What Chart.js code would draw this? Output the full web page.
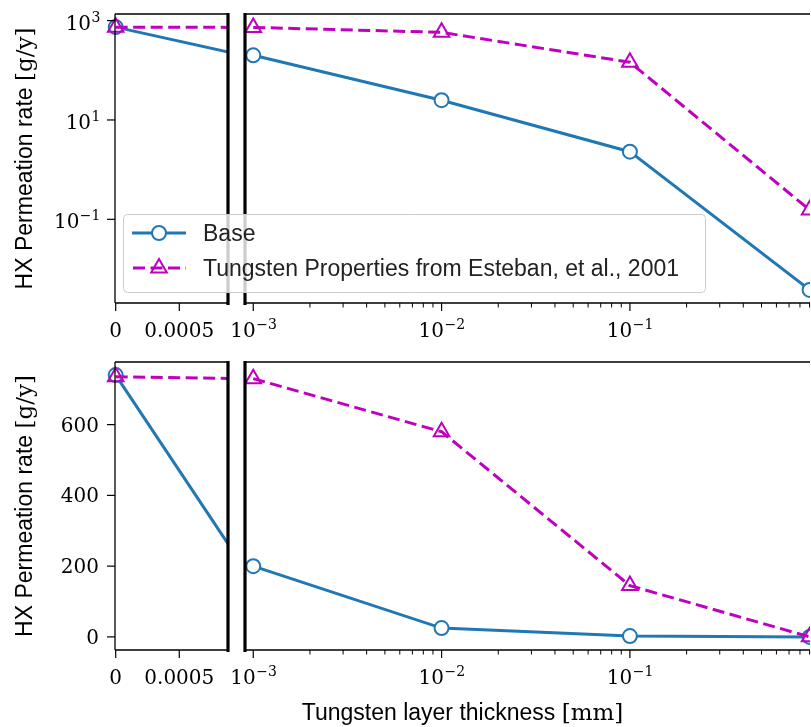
<!DOCTYPE html>
<html>
<head>
<meta charset="utf-8">
<script src="https://cdn.jsdelivr.net/npm/chart.js@4.4.1/dist/chart.umd.min.js"></script>
<style>
  body { margin: 0; background: #fff; }
  #fig { position: relative; width: 811px; height: 727px; overflow: hidden; }
  canvas { position: absolute; left: 0; }
</style>
</head>
<body>
<div id="fig">
  <canvas id="topLeft" width="232" height="345" style="top:0"></canvas>
  <canvas id="topRight" width="811" height="345" style="top:0"></canvas>
  <canvas id="botLeft" width="232" height="382" style="top:345px"></canvas>
  <canvas id="botRight" width="811" height="382" style="top:345px"></canvas>
</div>
<script>
// tungsten layer thickness [mm] and HX permeation rate [g/y]
const thickness = [0, 0.001, 0.01, 0.1, 0.9];
const baseRate = [740, 200, 25, 2.3, 0.0038];
const tungstenRate = [735, 730, 580, 145, 0.155];
const seriesNames = ['Base', 'Tungsten Properties from Esteban, et al., 2001'];

const linearXTicks = [0, 0.0005];
const linearXLabels = ['0', '0.0005'];
const logXTicks = [0.001, 0.01, 0.1];
const logYTicks = [1000, 10, 0.1];
const linearYTicks = [0, 200, 400, 600];

const BLUE = '#1f77b4';
const MAGENTA = '#bf00bf';
const SERIF = '"DejaVu Serif", serif';
const SANS = '"Liberation Sans", sans-serif';

function points(ys, logX) {
  return thickness.map((x, i) => ({ x, y: ys[i] })).filter(p => !logX || p.x > 0);
}

function datasets(logX) {
  return [
    {
      label: seriesNames[0], data: points(baseRate, logX), order: 1,
      borderColor: BLUE, borderWidth: 3,
      pointStyle: 'circle', pointRadius: 7, pointBorderWidth: 2,
      pointBorderColor: BLUE, pointBackgroundColor: '#fff'
    },
    {
      label: seriesNames[1], data: points(tungstenRate, logX), order: 0,
      borderColor: MAGENTA, borderWidth: 3, borderDash: [12, 5.5],
      pointStyle: 'triangle', pointRadius: 9, pointBorderWidth: 2,
      pointBorderColor: MAGENTA, pointBackgroundColor: 'rgba(0,0,0,0)'
    }
  ];
}

// "10" with a raised exponent
function drawPow(ctx, exp, x, y, align) {
  const base = '10';
  const sup = exp < 0 ? '\u2212' + (-exp) : String(exp);
  ctx.font = '20px ' + SERIF;
  const wb = ctx.measureText(base).width;
  ctx.font = '14px ' + SERIF;
  const ws = ctx.measureText(sup).width;
  const x0 = align === 'center' ? x - (wb + ws) / 2 : x - wb - ws;
  ctx.textAlign = 'left';
  ctx.textBaseline = 'alphabetic';
  ctx.font = '20px ' + SERIF;
  ctx.fillText(base, x0, y);
  ctx.font = '14px ' + SERIF;
  ctx.fillText(sup, x0 + wb + 0.5, y - 8);
}

// text made of pieces in different fonts, centred on x
function drawParts(ctx, parts, x, y) {
  let total = 0;
  parts.forEach(p => { ctx.font = p.font; total += ctx.measureText(p.text).width; });
  let cx = x - total / 2;
  ctx.textAlign = 'left';
  ctx.textBaseline = 'alphabetic';
  parts.forEach(p => {
    ctx.font = p.font;
    ctx.fillText(p.text, cx, y);
    cx += ctx.measureText(p.text).width;
  });
}

const yTitle = [
  { text: 'HX Permeation rate ', font: '23px ' + SANS },
  { text: '[g/y]', font: '23px ' + SERIF }
];
const xTitle = [
  { text: 'Tungsten layer thickness ', font: '23px ' + SANS },
  { text: '[mm]', font: '23px ' + SERIF }
];

const framePlugin = {
  id: 'frame',
  afterDatasetsDraw(chart, args, o) {
    const { ctx, chartArea: a } = chart;
    const xs = chart.scales.x, ys = chart.scales.y;
    ctx.save();
    ctx.strokeStyle = '#000';
    ctx.fillStyle = '#000';

    // spines
    ctx.lineWidth = 1.3;
    ctx.beginPath();
    ctx.moveTo(a.left, a.top); ctx.lineTo(a.right, a.top);
    ctx.moveTo(a.left, a.bottom); ctx.lineTo(a.right, a.bottom);
    if (o.leftSpine) { ctx.moveTo(a.left, a.top); ctx.lineTo(a.left, a.bottom); }
    ctx.stroke();

    // thick lines at the axis break
    ctx.lineWidth = 3.2;
    ctx.beginPath();
    if (o.breakRight) { ctx.moveTo(a.right, a.top - 1); ctx.lineTo(a.right, a.bottom + 2); }
    if (o.breakLeft) { ctx.moveTo(a.left, a.top - 1); ctx.lineTo(a.left, a.bottom + 2); }
    ctx.stroke();

    // x ticks
    const tick = (px, len, w) => {
      ctx.lineWidth = w;
      ctx.beginPath();
      ctx.moveTo(px, a.bottom); ctx.lineTo(px, a.bottom + len);
      ctx.stroke();
    };
    const xBase = a.bottom + 34;
    if (o.logX) {
      for (let d = 1e-4; d < 2; d *= 10) {
        for (let m = 2; m <= 9; m++) {
          const v = m * d;
          if (v >= xs.min && v <= xs.max) tick(xs.getPixelForValue(v), 4.5, 1);
        }
      }
      logXTicks.forEach(v => {
        const px = xs.getPixelForValue(v);
        tick(px, 8, 1.2);
        drawPow(ctx, Math.round(Math.log10(v)), px, xBase, 'center');
      });
    } else {
      linearXTicks.forEach((v, i) => {
        const px = xs.getPixelForValue(v);
        tick(px, 8, 1.2);
        ctx.textAlign = 'center';
        ctx.textBaseline = 'alphabetic';
        ctx.font = '20px ' + SERIF;
        ctx.fillText(linearXLabels[i], px, xBase);
      });
    }

    // y ticks and title on the left panels only
    if (o.leftSpine) {
      const yt = o.logY ? logYTicks : linearYTicks;
      yt.forEach(v => {
        const py = ys.getPixelForValue(v);
        ctx.lineWidth = 1.2;
        ctx.beginPath();
        ctx.moveTo(a.left - 8, py); ctx.lineTo(a.left, py);
        ctx.stroke();
        if (o.logY) {
          drawPow(ctx, Math.round(Math.log10(v)), a.left - 15, py + 9, 'right');
        } else {
          ctx.font = '20px ' + SERIF;
          ctx.textAlign = 'right';
          ctx.textBaseline = 'alphabetic';
          ctx.fillText(String(v), a.left - 16, py + 7);
        }
      });
      ctx.save();
      ctx.translate(31.5, (a.top + a.bottom) / 2);
      ctx.rotate(-Math.PI / 2);
      drawParts(ctx, yTitle, 0, 0);
      ctx.restore();
    }

    if (o.xTitle) drawParts(ctx, xTitle, (115 + 810) / 2, 375);
    ctx.restore();
  },
  afterDraw(chart, args, o) {
    if (!o.legend) return;
    const ctx = chart.ctx;
    ctx.save();
    // frame
    const x0 = 123.5, y0 = 214.5, w = 582, h = 78, r = 4;
    ctx.beginPath();
    ctx.roundRect(x0, y0, w, h, r);
    ctx.fillStyle = 'rgba(255,255,255,0.8)';
    ctx.fill();
    ctx.strokeStyle = '#cccccc';
    ctx.lineWidth = 1;
    ctx.stroke();

    const rows = [233, 268];
    chart.data.datasets.forEach((ds, i) => {
      const y = rows[i];
      ctx.strokeStyle = ds.borderColor;
      ctx.lineWidth = ds.borderWidth;
      ctx.setLineDash(ds.borderDash || []);
      ctx.lineDashOffset = ds.borderDash ? -1 : 0;
      ctx.beginPath();
      ctx.moveTo(132, y); ctx.lineTo(186, y);
      ctx.stroke();
      ctx.setLineDash([]);
      ctx.lineWidth = ds.pointBorderWidth;
      ctx.fillStyle = ds.pointBackgroundColor;
      ctx.beginPath();
      const cx = 159, pr = ds.pointRadius;
      if (ds.pointStyle === 'circle') {
        ctx.arc(cx, y, pr, 0, Math.PI * 2);
      } else {
        for (let k = 0; k < 3; k++) {
          const ang = k * 2 * Math.PI / 3;
          const px = cx + Math.sin(ang) * pr, py = y - Math.cos(ang) * pr;
          if (k === 0) ctx.moveTo(px, py); else ctx.lineTo(px, py);
        }
        ctx.closePath();
      }
      ctx.fill();
      ctx.stroke();

      ctx.fillStyle = '#222';
      ctx.font = '23px ' + SANS;
      ctx.textAlign = 'left';
      ctx.textBaseline = 'alphabetic';
      ctx.fillText(ds.label, 203, y + 8);
    });
    ctx.restore();
  }
};

function panel(id, c) {
  new Chart(document.getElementById(id), {
    type: 'line',
    data: { datasets: datasets(c.logX) },
    options: {
      responsive: false,
      animation: false,
      events: [],
      layout: { autoPadding: false, padding: { top: c.padTop, left: c.padLeft, right: c.padRight, bottom: 0 } },
      elements: { line: { tension: 0 } },
      clip: c.clip,
      plugins: {
        legend: { display: false },
        tooltip: { enabled: false },
        frame: c.frame
      },
      scales: {
        x: {
          type: c.logX ? 'logarithmic' : 'linear',
          min: c.xMin, max: c.xMax,
          afterFit: s => { s.height = c.xHeight; },
          ticks: { display: false },
          grid: { display: false },
          border: { display: false }
        },
        y: {
          type: c.logY ? 'logarithmic' : 'linear',
          min: c.yMin, max: c.yMax,
          display: c.showY,
          afterFit: s => { s.width = c.showY ? 115 : 0; },
          ticks: { display: false },
          grid: { display: false },
          border: { display: false }
        }
      }
    },
    plugins: [framePlugin]
  });
}

const leftX = { logX: false, xMin: -0.0000055, xMax: 0.000883, padLeft: 0, padRight: 4, showY: true,
  clip: { left: 10, top: 10, right: 0, bottom: 10 } };
const rightX = { logX: true, xMin: 0.000904, xMax: 0.9045, padLeft: 245, padRight: 1, showY: false,
  clip: { left: 0, top: 10, right: 0, bottom: 10 } };
const topY = { logY: true, yMin: 0.00207, yMax: 1358, padTop: 14, xHeight: 42 };
const botY = { logY: false, yMin: -37, yMax: 777, padTop: 17, xHeight: 77 };

panel('topLeft', { ...leftX, ...topY, frame: { leftSpine: true, breakRight: true, logY: true } });
panel('topRight', { ...rightX, ...topY, frame: { breakLeft: true, logX: true, legend: true } });
panel('botLeft', { ...leftX, ...botY, frame: { leftSpine: true, breakRight: true, logY: false } });
panel('botRight', { ...rightX, ...botY, frame: { breakLeft: true, logX: true, xTitle: true } });
</script>
</body>
</html>
